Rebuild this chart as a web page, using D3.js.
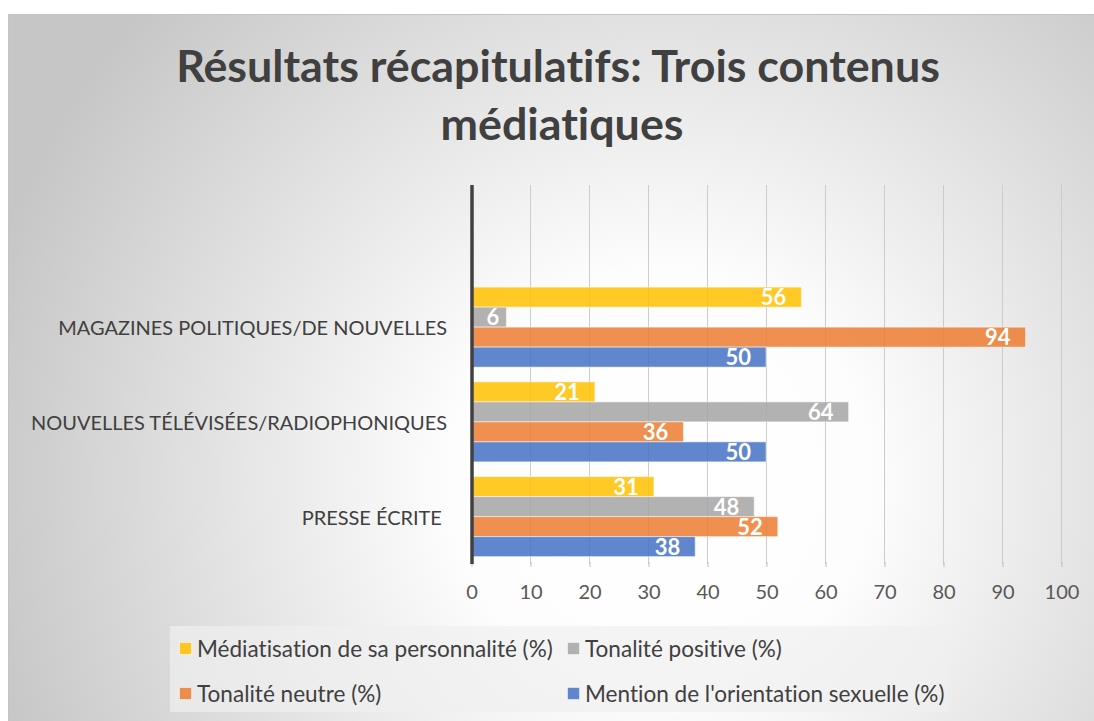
<!DOCTYPE html>
<html><head><meta charset="utf-8">
<script src="https://cdn.jsdelivr.net/npm/d3@7"></script>
<style>body{margin:0;background:#fff}svg{display:block}text{font-family:Lato,"Open Sans",sans-serif;font-variant-ligatures:none;font-feature-settings:"liga" 0,"clig" 0}</style>
</head><body><svg id="c" width="1094" height="721"></svg>
<script>
const categories = ["", "MAGAZINES POLITIQUES/DE NOUVELLES", "NOUVELLES TÉLÉVISÉES/RADIOPHONIQUES", "PRESSE ÉCRITE "];
const seriesNames = ["Médiatisation de sa personnalité (%)", "Tonalité positive (%)", "Tonalité neutre (%)", "Mention de l'orientation sexuelle (%)"];
const mediatisation = [null, 56, 21, 31];
const tonalitePositive = [null, 6, 64, 48];
const tonaliteNeutre = [null, 94, 36, 52];
const mentionOrientation = [null, 50, 50, 38];
const xTicks = [0,10,20,30,40,50,60,70,80,90,100];
const colors = ["#FFC000", "#A5A5A5", "#ED7D31", "#4472C4"];
const titleLines = ["Résultats récapitulatifs: Trois contenus", "médiatiques"];

const seriesValues = [mediatisation, tonalitePositive, tonaliteNeutre, mentionOrientation];
const svg = d3.select("#c");
const defs = svg.append("defs");
const grad = defs.append("radialGradient").attr("id","bg").attr("gradientUnits","userSpaceOnUse")
  .attr("cx",660).attr("cy",480).attr("r",700);
grad.append("stop").attr("offset","0").attr("stop-color","#ffffff");
grad.append("stop").attr("offset","0.3").attr("stop-color","#fdfdfd");
grad.append("stop").attr("offset","1").attr("stop-color","#c6c6c6");

svg.append("rect").attr("x",8.5).attr("y",14.5).attr("width",1200).attr("height",800)
  .attr("fill","url(#bg)").attr("stroke","#c4c4c4").attr("stroke-width",1);

function fit(sel, target){
  sel.each(function(){
    const w = this.getComputedTextLength();
    const fs = parseFloat(d3.select(this).attr("font-size"));
    d3.select(this).attr("font-size", (fs*target/w).toFixed(2));
  });
}

// title
const t1 = svg.append("text").attr("x",558).attr("y",82).attr("text-anchor","middle")
  .attr("font-size",42).attr("font-weight","bold").attr("fill","#404040").text(titleLines[0]);
fit(t1, 764);
const t2 = svg.append("text").attr("x",562).attr("y",140).attr("text-anchor","middle")
  .attr("font-size",t1.attr("font-size")).attr("font-weight","bold").attr("fill","#404040").text(titleLines[1]);

const x = d3.scaleLinear().domain([0,100]).range([471,1061]);
const y = d3.scaleBand().domain(categories.map((d,i)=>i)).range([185,564]);
const inner = d3.scaleBand().domain(d3.range(seriesNames.length)).range([0,80]);
const off = (y.bandwidth()-80)/2;

// gridlines
svg.append("g").selectAll("line").data(xTicks.slice(1)).join("line")
  .attr("x1",d=>x(d)+0.5).attr("x2",d=>x(d)+0.5).attr("y1",185).attr("y2",564)
  .attr("stroke","#cccccc").attr("stroke-width",1);

// x axis ticks/labels
const xAxis = d3.axisBottom(x).tickValues(xTicks).tickSize(5).tickFormat(d3.format("d"));
const gx = svg.append("g").attr("transform","translate(0.5,562)").call(xAxis);
gx.select(".domain").remove();
gx.selectAll(".tick line").attr("stroke","#bfbfbf");
gx.selectAll(".tick text").attr("font-size",20).attr("fill","#595959").attr("y",31).attr("dy","0.32em")
  .attr("font-family","Lato, sans-serif");

// bars
const bars = [];
seriesValues.forEach((vals,s)=>vals.forEach((v,c)=>{ if(v!=null) bars.push({s,c,v}); }));
const gb = svg.append("g");
gb.selectAll("rect").data(bars).join("rect")
  .attr("x",x(0)).attr("y",d=>y(d.c)+off+inner(d.s))
  .attr("width",d=>x(d.v)-x(0)).attr("height",inner.bandwidth())
  .attr("fill",d=>colors[d.s]).attr("fill-opacity",0.85)
  .attr("stroke","#ffffff").attr("stroke-opacity",0.5).attr("stroke-width",1);
gb.selectAll("text").data(bars).join("text")
  .attr("x",d=>{const w=x(d.v)-x(0); return x(d.v)-Math.min(15,w*0.2);})
  .attr("y",d=>y(d.c)+off+inner(d.s)+inner.bandwidth()/2).attr("dy","0.37em")
  .attr("text-anchor","end").attr("font-size",22).attr("font-weight","bold").attr("fill","#ffffff")
  .text(d=>d.v);

// y axis line
svg.append("line").attr("x1",472).attr("x2",472).attr("y1",185).attr("y2",564)
  .attr("stroke","#404040").attr("stroke-width",3.5);

// category labels
const yl = svg.append("g").selectAll("text").data(categories).join("text")
  .attr("x",447).attr("y",(d,i)=>y(i)+y.bandwidth()/2+1).attr("dy","0.35em")
  .attr("text-anchor","end").attr("font-size",20).attr("fill","#404040")
  .style("white-space","pre").text(d=>d);
fit(yl.filter((d,i)=>i===1), 389);
yl.filter((d,i)=>i>1).attr("font-size", yl.filter((d,i)=>i===1).attr("font-size"));

// legend
svg.append("rect").attr("x",170).attr("y",626).attr("width",778).attr("height",86)
  .attr("fill","#f0f0f0").attr("fill-opacity",0.7);
const legPos = [[179,649],[567,649],[179,694],[567,694]];
const lg = svg.append("g").selectAll("g").data(seriesNames).join("g")
  .attr("transform",(d,i)=>`translate(${legPos[i][0]},${legPos[i][1]})`);
lg.append("rect").attr("x",0.5).attr("y",-6.5).attr("width",12).attr("height",12)
  .attr("fill",(d,i)=>colors[i]).attr("fill-opacity",0.85).attr("stroke","#ffffff").attr("stroke-opacity",0.5);
const lt = lg.append("text").attr("x",18).attr("dy","0.35em").attr("font-size",20).attr("fill","#404040").text(d=>d);
fit(lt.filter((d,i)=>i===0), 356);
lt.filter((d,i)=>i>0).attr("font-size", lt.filter((d,i)=>i===0).attr("font-size"));
</script></body></html>
